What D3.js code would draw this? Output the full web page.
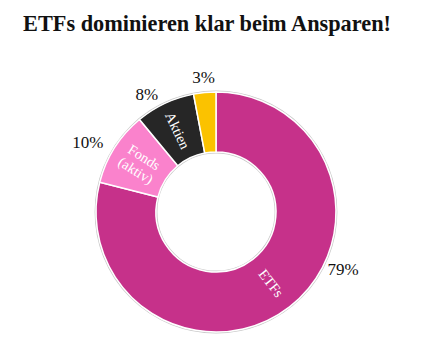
<!DOCTYPE html>
<html><head><meta charset="utf-8">
<script src="https://cdn.jsdelivr.net/npm/d3@7"></script>
<style>body{margin:0;background:#fff}svg{display:block}</style>
</head><body>
<script>
const title = "ETFs dominieren klar beim Ansparen!";
const categories = ["ETFs", "Fonds\n(aktiv)", "Aktien", "Sonstige"];
const values = [79, 10, 8, 3];
const percentLabels = ["79%", "10%", "8%", "3%"];
const colors = ["#c6318a", "#fa82cc", "#262626", "#fbc200"];

const W = 430, H = 344, cx = 216, cy = 212, rOuter = 120, rInner = 60;
const svg = d3.select("body").append("svg").attr("width", W).attr("height", H);

svg.append("text").attr("x", 207).attr("y", 31).attr("text-anchor", "middle")
  .attr("font-family", "Liberation Serif, serif").attr("font-weight", "bold")
  .attr("font-size", 22.3).attr("fill", "#111").text(title);

const data = categories.map((c, i) => ({cat: c, value: values[i], pct: percentLabels[i], color: colors[i]}));
const pie = d3.pie().value(d => d.value).sort(null);
const arcs = pie(data);
const arc = d3.arc().innerRadius(rInner).outerRadius(rOuter);
const g = svg.append("g").attr("transform", `translate(${cx},${cy})`);

g.append("circle").attr("r", rOuter + 0.8).attr("fill", "none").attr("stroke", "#c8c8c8").attr("stroke-width", 1.2);
g.append("circle").attr("r", rInner - 0.8).attr("fill", "none").attr("stroke", "#c8c8c8").attr("stroke-width", 1.2);

g.selectAll("path.slice").data(arcs).join("path").attr("class", "slice")
  .attr("d", arc).attr("fill", d => d.data.color)
  .attr("stroke", "#fff").attr("stroke-width", 1.5);

// inner labels (radial orientation)
const rMid = (rInner + rOuter) / 2;
arcs.forEach(d => {
  if (d.data.value < 5) return;
  const a = (d.startAngle + d.endAngle) / 2;
  const deg = a * 180 / Math.PI;
  const rot = deg < 180 ? deg - 90 : deg + 90;
  const x = Math.sin(a) * rMid, y = -Math.cos(a) * rMid;
  const lines = d.data.cat.split("\n");
  const t = g.append("text").attr("transform", `translate(${x},${y}) rotate(${rot})`)
    .attr("text-anchor", "middle").attr("font-family", "Liberation Serif, serif")
    .attr("font-size", 14.3).attr("fill", "#fff");
  lines.forEach((l, i) => {
    t.append("tspan").attr("x", 0).attr("dy", i === 0 ? ((1 - lines.length) * 0.55 + 0.35) + "em" : "1.1em").text(l);
  });
});

// outer percent labels
arcs.forEach(d => {
  const span = d.endAngle - d.startAngle;
  const t = g.append("text").attr("dominant-baseline", "central")
    .attr("font-family", "Liberation Serif, serif")
    .attr("font-size", 17).attr("fill", "#111").text(d.data.pct);
  if (span > Math.PI) {
    const a = d.startAngle + span * 0.402, R = 139.5;
    t.attr("x", Math.sin(a) * R).attr("y", -Math.cos(a) * R).attr("text-anchor", "middle");
    return;
  }
  const a = (d.startAngle + d.endAngle) / 2, R = 131;
  const s = Math.sin(a);
  let x = s * R, y = -Math.cos(a) * R;
  if (Math.abs(s) < 0.2) { t.attr("text-anchor", "middle"); y -= 4.5; }
  else if (s < 0) { t.attr("text-anchor", "end"); x -= 2; y += 1; }
  else { t.attr("text-anchor", "start"); x += 2; }
  t.attr("x", x).attr("y", y);
});
</script>
</body></html>
